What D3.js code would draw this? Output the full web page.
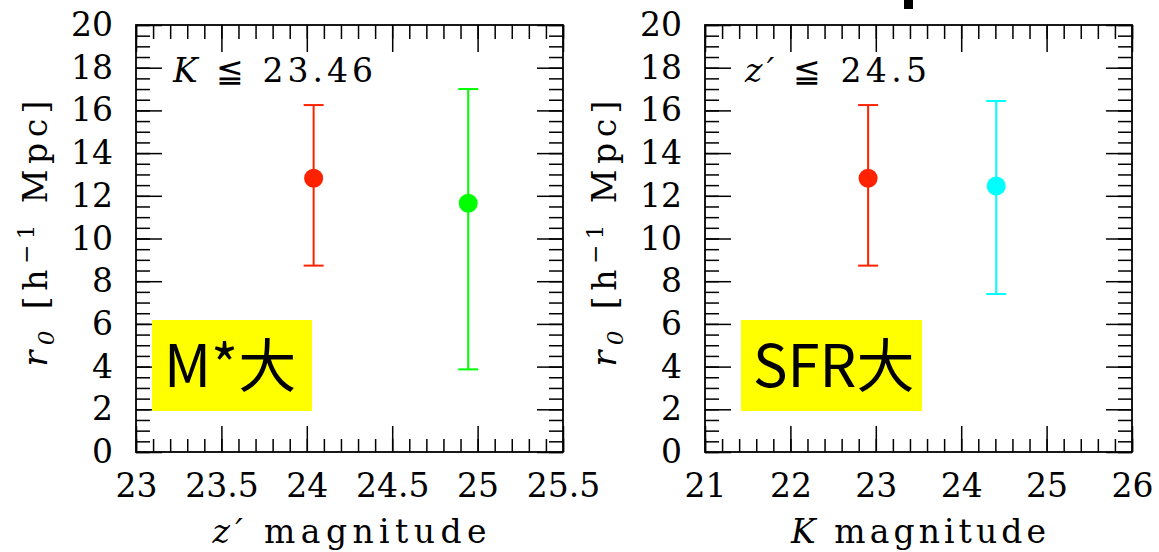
<!DOCTYPE html>
<html>
<head>
<meta charset="utf-8">
<script src="https://cdn.jsdelivr.net/npm/d3@7"></script>
<style>
  body { margin: 0; background: #fff; }
  svg { display: block; }
  .tick text { font-family: "DejaVu Serif", serif; font-size: 33px; fill: #000; }
  .tick line { stroke: #000; stroke-width: 1.5; }
  .domain { display: none; }
  .serif { font-family: "DejaVu Serif", serif; font-size: 33px; }
</style>
</head>
<body>
<div id="chart"></div>
<script>
// values
var leftX = [24.04, 24.945];
var leftY = [12.82, 11.65];
var leftHi = [16.25, 17.0];
var leftLo = [8.73, 3.87];
var leftColors = ["#ff2200", "#00ff00"];

var rightX = [22.91, 24.41];
var rightY = [12.82, 12.46];
var rightHi = [16.25, 16.44];
var rightLo = [8.73, 7.40];
var rightColors = ["#ff2200", "#00ffff"];

var leftXTicks = [23, 23.5, 24, 24.5, 25, 25.5];
var rightXTicks = [21, 22, 23, 24, 25, 26];
var yTicks = [0, 2, 4, 6, 8, 10, 12, 14, 16, 18, 20];

var svgWidth = 1159, svgHeight = 552;
var plotTop = 25, plotSize = 427;

var svg = d3.select("#chart").append("svg")
    .attr("width", svgWidth)
    .attr("height", svgHeight);

function drawPanel(opt) {
  var g = svg.append("g").attr("transform", "translate(" + opt.left + "," + plotTop + ")");

  var x = d3.scaleLinear().domain(opt.xDomain).range([0, plotSize]);
  var y = d3.scaleLinear().domain([0, 20]).range([plotSize, 0]);

  // minor ticks on all sides
  var xMinor = d3.range(opt.xDomain[0], opt.xDomain[1] + 1e-9, opt.xMinorStep);
  var yMinor = d3.range(0, 20.001, 0.5);
  g.append("g").attr("transform", "translate(0," + plotSize + ")")
    .call(d3.axisBottom(x).tickValues(xMinor).tickSize(-13).tickFormat(""));
  g.append("g")
    .call(d3.axisTop(x).tickValues(xMinor).tickSize(-14).tickFormat(""));
  g.append("g")
    .call(d3.axisLeft(y).tickValues(yMinor).tickSize(-14).tickFormat(""));
  g.append("g").attr("transform", "translate(" + plotSize + ",0)")
    .call(d3.axisRight(y).tickValues(yMinor).tickSize(-14).tickFormat(""));

  // major ticks + labels
  g.append("g").attr("transform", "translate(0," + plotSize + ")")
    .call(d3.axisBottom(x).tickValues(opt.xTicks).tickSize(-26).tickPadding(22).tickFormat(d3.format("~g")));
  g.append("g")
    .call(d3.axisTop(x).tickValues(opt.xTicks).tickSize(-27).tickFormat(""));
  g.append("g")
    .call(d3.axisLeft(y).tickValues(yTicks).tickSize(-26).tickPadding(23).tickFormat(d3.format("d")));
  g.append("g").attr("transform", "translate(" + plotSize + ",0)")
    .call(d3.axisRight(y).tickValues(yTicks).tickSize(-26).tickFormat(""));

  // frame
  g.append("rect")
    .attr("width", plotSize).attr("height", plotSize)
    .attr("fill", "none").attr("stroke", "#000").attr("stroke-width", 1.8);

  // selection label
  var sel = g.append("text").attr("class", "serif")
    .attr("x", opt.selX).attr("y", 57)
    .attr("textLength", opt.selLen).attr("lengthAdjust", "spacing");
  sel.append("tspan").style("font-style", "italic").text(opt.selVar);
  sel.append("tspan").text(opt.selRest);

  // error bars
  var pts = opt.xs.map(function(d, i) {
    return { x: d, y: opt.ys[i], hi: opt.his[i], lo: opt.los[i], c: opt.colors[i] };
  });
  var pg = g.selectAll(".pt").data(pts).enter().append("g").attr("class", "pt");
  pg.append("line")
    .attr("x1", function(d) { return x(d.x); }).attr("x2", function(d) { return x(d.x); })
    .attr("y1", function(d) { return y(d.hi); }).attr("y2", function(d) { return y(d.lo); })
    .attr("stroke", function(d) { return d.c; }).attr("stroke-width", 2);
  [ "hi", "lo" ].forEach(function(k) {
    pg.append("line")
      .attr("x1", function(d) { return x(d.x) - 10; }).attr("x2", function(d) { return x(d.x) + 10; })
      .attr("y1", function(d) { return y(d[k]); }).attr("y2", function(d) { return y(d[k]); })
      .attr("stroke", function(d) { return d.c; }).attr("stroke-width", 2);
  });
  pg.append("circle")
    .attr("cx", function(d) { return x(d.x); })
    .attr("cy", function(d) { return y(d.y); })
    .attr("r", 9.5)
    .attr("fill", function(d) { return d.c; });

  // x title
  var xt = g.append("text").attr("class", "serif")
    .attr("x", plotSize / 2).attr("y", 518)
    .attr("text-anchor", "middle")
    .attr("textLength", opt.xTitleLen).attr("lengthAdjust", "spacing");
  xt.append("tspan").style("font-style", "italic").text(opt.xVar);
  xt.append("tspan").text(opt.xRest);

  // y title
  var yt = g.append("text").attr("class", "serif")
    .attr("transform", "translate(" + (-89) + "," + (plotSize / 2 - 5) + ")rotate(-90)")
    .attr("text-anchor", "middle")
    .attr("textLength", 266).attr("lengthAdjust", "spacing");
  yt.append("tspan").style("font-style", "italic").text("r");
  yt.append("tspan").attr("dy", 7).style("font-size", "23px").style("font-style", "italic").text("0");
  yt.append("tspan").attr("dy", -7).text(" [h");
  yt.append("tspan").attr("dy", -13).style("font-size", "23px").text("\u22121");
  yt.append("tspan").attr("dy", 13).text(" Mpc]");

  // yellow tag
  svg.append("rect")
    .attr("x", opt.tagX).attr("y", 320)
    .attr("width", opt.tagW).attr("height", 91)
    .attr("fill", "#ffff00");
  svg.append("text")
    .attr("x", opt.tagX + 12).attr("y", 387)
    .style("font-family", "Noto Sans CJK JP, Noto Sans, sans-serif")
    .style("font-size", "58px")
    .text(opt.tag);
}

drawPanel({
  left: 136, xDomain: [23, 25.5], xMinorStep: 0.1, xTicks: leftXTicks,
  xs: leftX, ys: leftY, his: leftHi, los: leftLo, colors: leftColors,
  selVar: "K", selRest: " \u2266 23.46", selX: 37, selLen: 200,
  xVar: "z\u2032", xRest: " magnitude", xTitleLen: 274,
  tag: "M*\u5927", tagX: 152, tagW: 160
});

drawPanel({
  left: 705, xDomain: [21, 26], xMinorStep: 0.2, xTicks: rightXTicks,
  xs: rightX, ys: rightY, his: rightHi, los: rightLo, colors: rightColors,
  selVar: "z\u2032", selRest: " \u2266 24.5", selX: 40, selLen: 182,
  xVar: "K", xRest: " magnitude", xTitleLen: 255,
  tag: "SFR\u5927", tagX: 741, tagW: 181
});

// cut-off glyph at the top edge
svg.append("rect").attr("x", 904).attr("y", 0).attr("width", 9).attr("height", 9).attr("fill", "#000");
</script>
</body>
</html>
